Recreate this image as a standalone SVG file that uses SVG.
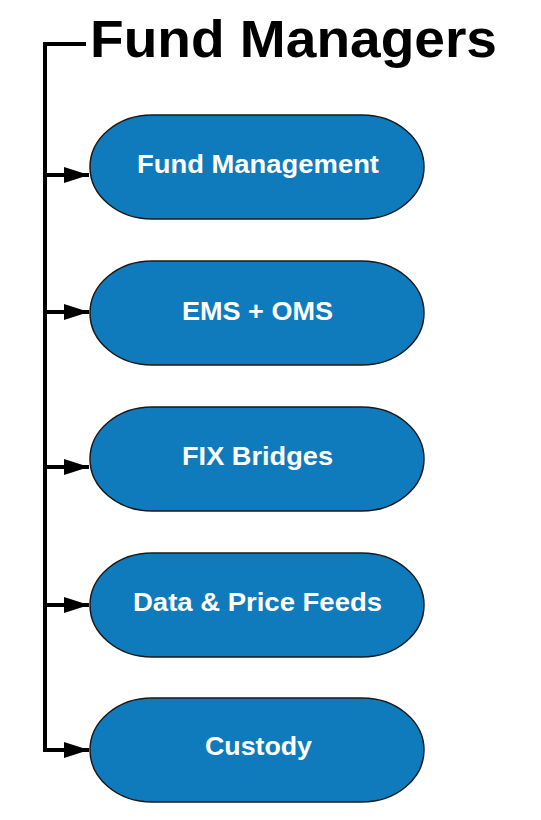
<svg xmlns="http://www.w3.org/2000/svg" width="541" height="820" viewBox="0 0 541 820">
<style>
.node{fill:#0f7bbd;stroke:#1a1a1a;stroke-width:1.5}
.lbl{font-family:"Liberation Sans",Arial,sans-serif;font-weight:bold;font-size:25.5px;fill:#ffffff;text-anchor:middle}
.title{font-family:"Liberation Sans",Arial,sans-serif;font-weight:bold;font-size:51px;fill:#000000}
.conn{fill:none;stroke:#000000;stroke-width:4}
</style>
<defs>
<marker id="ah" markerUnits="userSpaceOnUse" markerWidth="26" markerHeight="18" refX="25" refY="9" orient="auto">
<path d="M0,1 L25,9 L0,17 Z" fill="#000000"/>
</marker>
</defs>
<rect width="541" height="820" fill="#ffffff"/>
<g id="title">
<text class="title" x="90" y="57" textLength="407" lengthAdjust="spacingAndGlyphs">Fund Managers</text>
</g>
<g id="connectors">
<path class="conn" d="M86,44 H45 V750"/>
<path class="conn" d="M45,175 H89" marker-end="url(#ah)"/>
<path class="conn" d="M45,312 H89" marker-end="url(#ah)"/>
<path class="conn" d="M45,467 H89" marker-end="url(#ah)"/>
<path class="conn" d="M45,605 H89" marker-end="url(#ah)"/>
<path class="conn" d="M43,750 H89" marker-end="url(#ah)"/>
</g>
<g id="node-fund-management">
<rect class="node" x="90" y="115" width="334" height="104" rx="62" ry="52"/>
<text class="lbl" x="258" y="173" textLength="242" lengthAdjust="spacingAndGlyphs">Fund Management</text>
</g>
<g id="node-ems-oms">
<rect class="node" x="90" y="261" width="334" height="104" rx="62" ry="52"/>
<text class="lbl" x="257.5" y="320" textLength="151" lengthAdjust="spacingAndGlyphs">EMS + OMS</text>
</g>
<g id="node-fix-bridges">
<rect class="node" x="90" y="407" width="334" height="104" rx="62" ry="52"/>
<text class="lbl" x="257.5" y="465" textLength="151" lengthAdjust="spacingAndGlyphs">FIX Bridges</text>
</g>
<g id="node-data-price-feeds">
<rect class="node" x="90" y="553" width="334" height="104" rx="62" ry="52"/>
<text class="lbl" x="257.5" y="611" textLength="249" lengthAdjust="spacingAndGlyphs">Data &amp; Price Feeds</text>
</g>
<g id="node-custody">
<rect class="node" x="90" y="698" width="334" height="104" rx="62" ry="52"/>
<text class="lbl" x="258.5" y="755" textLength="107" lengthAdjust="spacingAndGlyphs">Custody</text>
</g>
</svg>
